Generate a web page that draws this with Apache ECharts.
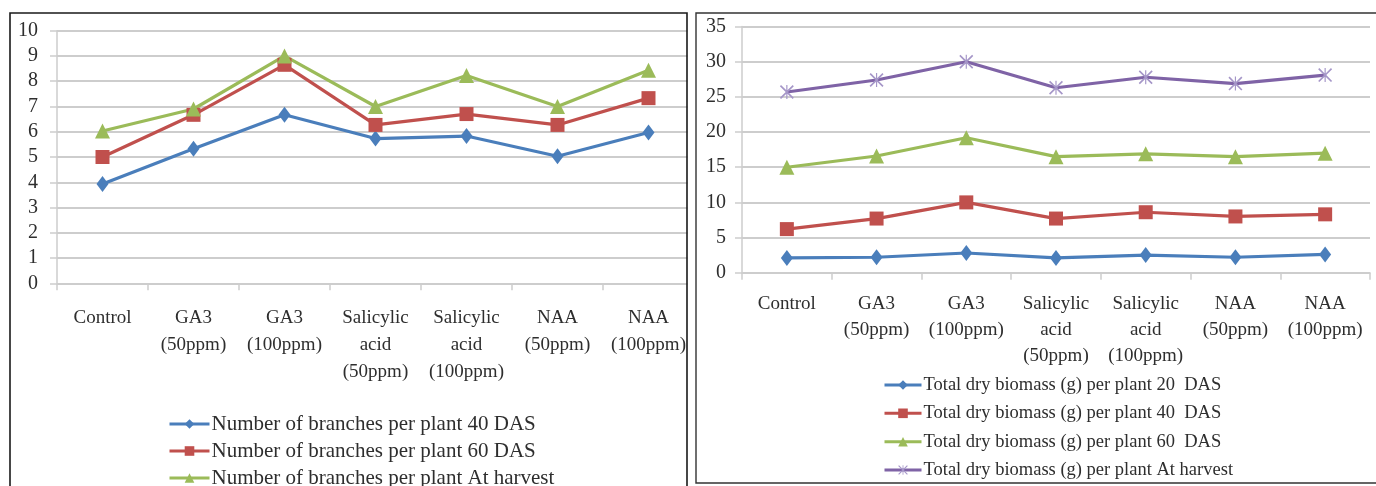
<!DOCTYPE html>
<html>
<head>
<meta charset="utf-8">
<script src="https://cdn.jsdelivr.net/npm/echarts@6/dist/echarts.min.js"></script>
<style>
  html, body { margin: 0; padding: 0; background: #fff; }
  #chart { width: 1376px; height: 486px; }
</style>
</head>
<body>
<div id="chart"></div>
<script>
// Treatments (shared by both panels)
const categories = [
  'Control',
  'GA3\n(50ppm)',
  'GA3\n(100ppm)',
  'Salicylic\nacid\n(50ppm)',
  'Salicylic\nacid\n(100ppm)',
  'NAA\n(50ppm)',
  'NAA\n(100ppm)'
];

// Left panel: number of branches per plant
const branchNames = [
  'Number of branches per plant 40 DAS',
  'Number of branches per plant 60 DAS',
  'Number of branches per plant At harvest'
];
const branches40 = [3.93, 5.33, 6.67, 5.73, 5.83, 5.03, 5.97];
const branches60 = [5.0, 6.67, 8.65, 6.27, 6.7, 6.27, 7.33];
const branchesHarvest = [6.03, 6.9, 9.0, 7.0, 8.23, 7.0, 8.43];

// Right panel: total dry biomass (g) per plant
const biomassNames = [
  'Total dry biomass (g) per plant 20  DAS',
  'Total dry biomass (g) per plant 40  DAS',
  'Total dry biomass (g) per plant 60  DAS',
  'Total dry biomass (g) per plant At harvest'
];
const biomass20 = [2.1, 2.2, 2.8, 2.1, 2.5, 2.2, 2.6];
const biomass40 = [6.2, 7.7, 10.0, 7.7, 8.6, 8.0, 8.3];
const biomass60 = [15.0, 16.6, 19.2, 16.5, 16.9, 16.5, 17.0];
const biomassHarvest = [25.7, 27.4, 30.0, 26.3, 27.8, 26.9, 28.1];

// Tick ranges
const branchAxis = { min: 0, max: 10, interval: 1 };
const biomassAxis = { min: 0, max: 35, interval: 5 };

const FONT = '"Liberation Serif", "Times New Roman", serif';
const TEXT = '#2e2e2e';
const GRID = '#cdcdcd';

const BLUE = '#4a7ebb', RED = '#c0504d', GREEN = '#9bbb59', PURPLE = '#7f63a6';
const STAR = 'path://M0,1 L1,0 L6,5 L11,0 L12,1 L7,6 L12,11 L11,12 L6,7 L1,12 L0,11 L5,6 Z M5.5,0 L6.5,0 L6.5,12 L5.5,12 Z';

function makeX(gridIndex, margin, lineHeight) {
  return {
    type: 'category', gridIndex, data: categories, boundaryGap: true,
    axisLine: { lineStyle: { color: GRID, width: 1.5 } },
    axisTick: { show: true, length: 7, lineStyle: { color: GRID, width: 1.5 } },
    axisLabel: { interval: 0, margin, color: TEXT, fontFamily: FONT, fontSize: 19, lineHeight, align: 'center' },
    splitLine: { show: false }
  };
}
function makeY(gridIndex, range, margin) {
  return {
    type: 'value', gridIndex, min: range.min, max: range.max, interval: range.interval,
    axisLine: { show: true, lineStyle: { color: GRID, width: 1.5 } },
    axisTick: { show: true, length: 7, lineStyle: { color: GRID, width: 1.5 } },
    axisLabel: { margin, color: TEXT, fontFamily: FONT, fontSize: 20 },
    splitLine: { show: true, lineStyle: { color: GRID, width: 1.8 } }
  };
}
function line(name, data, color, symbol, size, axisIdx, markerColor) {
  return {
    type: 'line', name, data, xAxisIndex: axisIdx, yAxisIndex: axisIdx,
    symbol, symbolSize: size, showAllSymbol: true,
    lineStyle: { color, width: 3.2 },
    itemStyle: { color: markerColor || color, borderWidth: 0 },
    emphasis: { disabled: true },
    animation: false, z: 3
  };
}
// one legend row per series so rows stack exactly, even past the bottom edge
function legendRow(name, left, centerY, rowHeight, iconWidth, fontSize) {
  return {
    data: [name], orient: 'horizontal', left, top: centerY - rowHeight / 2, padding: 0,
    itemWidth: iconWidth, itemHeight: 12, itemGap: 0,
    lineStyle: { width: 3 },
    textStyle: { fontFamily: FONT, fontSize, color: TEXT, lineHeight: rowHeight, padding: [0, 0, 0, -3] }
  };
}

const chart = echarts.init(document.getElementById('chart'), null, { renderer: 'canvas' });
chart.setOption({
  backgroundColor: '#ffffff',
  animation: false,
  grid: [
    { left: 57, top: 30.7, width: 637, height: 252.6, containLabel: false },
    { left: 742, top: 26.6, width: 628, height: 246.1, containLabel: false }
  ],
  xAxis: [makeX(0, 21, 27), makeX(1, 18, 26)],
  yAxis: [makeY(0, branchAxis, 19), makeY(1, biomassAxis, 16)],
  legend: [
    legendRow(branchNames[0], 168, 424, 27, 40, 21),
    legendRow(branchNames[1], 168, 451, 27, 40, 21),
    legendRow(branchNames[2], 168, 478, 27, 40, 21),
    legendRow(biomassNames[0], 883, 385, 28, 37, 18.5),
    legendRow(biomassNames[1], 883, 413.3, 28, 37, 18.5),
    legendRow(biomassNames[2], 883, 441.7, 28, 37, 18.5),
    legendRow(biomassNames[3], 883, 470, 28, 37, 18.5)
  ],
  series: [
    line(branchNames[0], branches40, BLUE, 'diamond', [12, 16], 0),
    line(branchNames[1], branches60, RED, 'rect', 14, 0),
    line(branchNames[2], branchesHarvest, GREEN, 'triangle', 15, 0),
    line(biomassNames[0], biomass20, BLUE, 'diamond', [12, 16], 1),
    line(biomassNames[1], biomass40, RED, 'rect', 14, 1),
    line(biomassNames[2], biomass60, GREEN, 'triangle', 15, 1),
    line(biomassNames[3], biomassHarvest, PURPLE, STAR, 14, 1, '#a596c8')
  ],
  graphic: [
    // gap between the two panels hides the overflow of the left plot
    { type: 'rect', z: 100, shape: { x: 687.5, y: 0, width: 8, height: 486 }, style: { fill: '#ffffff' } },
    // left panel frame
    { type: 'polyline', z: 101, shape: { points: [[10, 486], [10, 13], [687, 13], [687, 486]] },
      style: { stroke: '#1a1a1a', lineWidth: 1.6, fill: null } },
    // right panel frame
    { type: 'polyline', z: 101, shape: { points: [[1380, 13], [696, 13], [696, 483], [1380, 483]] },
      style: { stroke: '#333333', lineWidth: 1.4, fill: null } }
  ]
});
</script>
</body>
</html>
